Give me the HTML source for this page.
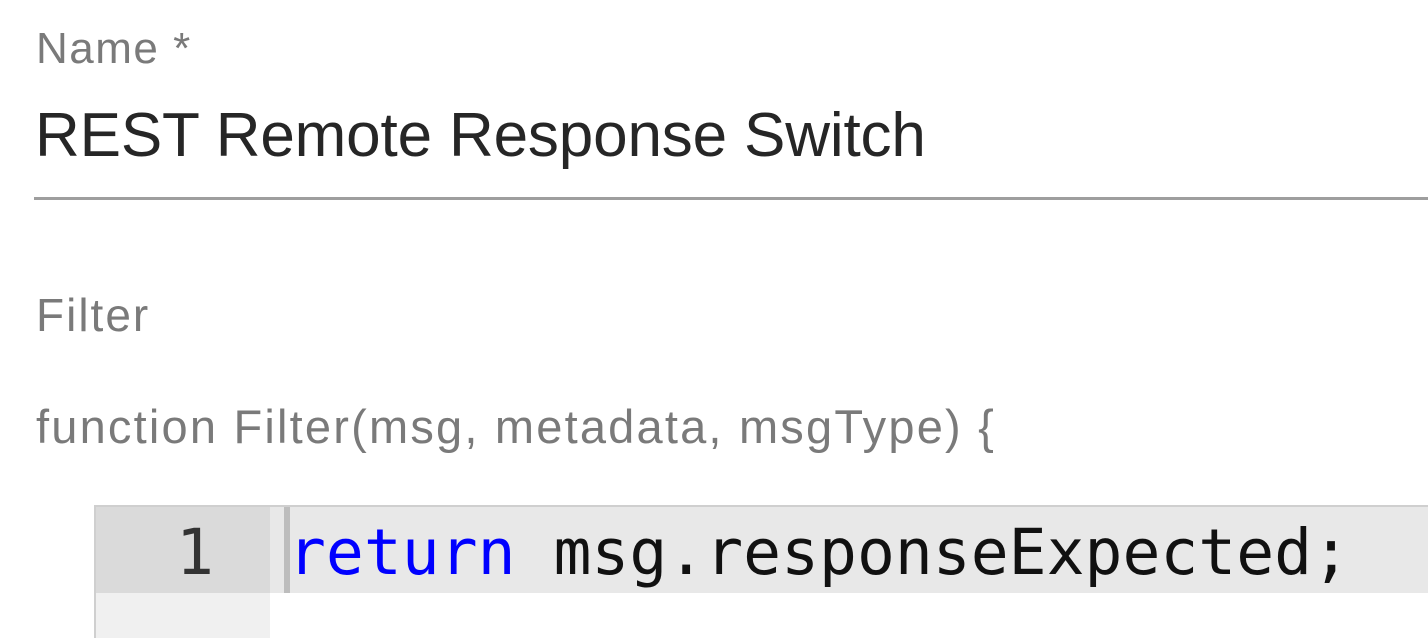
<!DOCTYPE html>
<html><head><style>
html,body{margin:0;padding:0;background:#fff;width:1428px;height:638px;overflow:hidden;position:relative;font-family:"Liberation Sans",sans-serif}
.t{position:absolute;white-space:nowrap;line-height:1}
</style></head><body>
<div class="t" style="left:36px;top:27px;font-size:44px;color:#7a7a7a;letter-spacing:1.5px">Name *</div>
<div class="t" style="left:35px;top:105px;font-size:62px;color:#262626;letter-spacing:-0.15px">REST Remote Response Switch</div>
<div style="position:absolute;left:34px;top:197px;width:1400px;height:3px;background:#9e9e9e"></div>
<div class="t" style="left:36px;top:292px;font-size:46px;color:#7a7a7a;letter-spacing:2px">Filter</div>
<div class="t" style="left:36px;top:403px;font-size:47px;color:#7a7a7a;letter-spacing:2.2px">function Filter(msg, metadata, msgType) {</div>
<div style="position:absolute;left:94px;top:505px;width:1340px;height:140px;border:2px solid #cfcfcf;border-right:none;background:#fff"></div>
<div style="position:absolute;left:96px;top:507px;width:174px;height:140px;background:#f0f0f0"></div>
<div style="position:absolute;left:96px;top:507px;width:174px;height:86px;background:#dadada"></div>
<div style="position:absolute;left:270px;top:507px;width:1170px;height:86px;background:#e8e8e8"></div>
<div style="position:absolute;left:284px;top:507px;width:6px;height:86px;background:#bdbdbd"></div>
<div class="t" style="left:176px;top:521px;font-size:63px;color:#333;font-family:'DejaVu Sans Mono',monospace">1</div>
<div class="t" style="left:288px;top:521px;font-size:63px;color:#111;font-family:'DejaVu Sans Mono',monospace"><span style="color:#0000ff">return</span> msg.responseExpected;</div>
</body></html>
